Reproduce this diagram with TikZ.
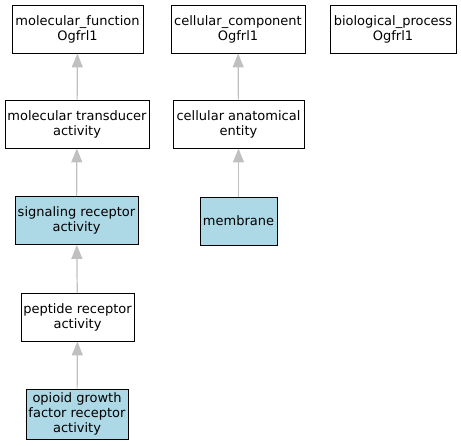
\documentclass[tikz,border=0pt]{standalone}
\usepackage{fontspec}
\setmainfont{DejaVu Sans}
\usepackage{tikz}
\usetikzlibrary{arrows.meta}
\definecolor{golightblue}{HTML}{ADD8E6}
\definecolor{goedgegray}{HTML}{C0C0C0}
\tikzset{
  goterm/.style={draw=black, line width=0.9pt, fill=white, align=center,
    inner sep=0pt, font=\fontsize{13}{15}\selectfont},
  goannot/.style={goterm, fill=golightblue},
  isa/.style={goedgegray, line width=1.2pt,
    -{Triangle[length=14pt, width=11pt]}}
}
\begin{document}
\begin{tikzpicture}[x=1pt, y=-1pt]
  \useasboundingbox (0,0) rectangle (461,445);

  % Top-level roots
  \node[goterm, minimum width=131pt, minimum height=48pt] (mf) at (77.5,29)
    {molecular\_function\\Ogfrl1};
  \node[goterm, minimum width=134pt, minimum height=48pt] (cc) at (238,29)
    {cellular\_component\\Ogfrl1};
  \node[goterm, minimum width=126pt, minimum height=48pt] (bp) at (393,29)
    {biological\_process\\Ogfrl1};

  % Second level
  \node[goterm, minimum width=144pt, minimum height=48pt] (mta) at (77,124)
    {molecular transducer\\activity};
  \node[goterm, minimum width=131pt, minimum height=48pt] (cae) at (238.5,124)
    {cellular anatomical\\entity};

  % Annotated terms
  \node[goannot, minimum width=123pt, minimum height=48pt] (sra) at (76.5,220.5)
    {signaling receptor\\activity};
  \node[goannot, minimum width=77pt, minimum height=48pt] (mem) at (238.5,221)
    {membrane};
  \node[goterm, minimum width=113pt, minimum height=48pt] (pra) at (77.5,317)
    {peptide receptor\\activity};
  \node[goannot, minimum width=102pt, minimum height=50pt] (ogfra) at (77,414)
    {opioid growth\\factor receptor\\activity};

  % is_a edges
  \draw[isa] (mta) -- (mf);
  \draw[isa] (cae) -- (cc);
  \draw[isa] (sra) -- (mta);
  \draw[isa] (mem) -- (cae);
  \draw[isa] (pra) -- (sra);
  \draw[isa] (ogfra) -- (pra);
\end{tikzpicture}
\end{document}
